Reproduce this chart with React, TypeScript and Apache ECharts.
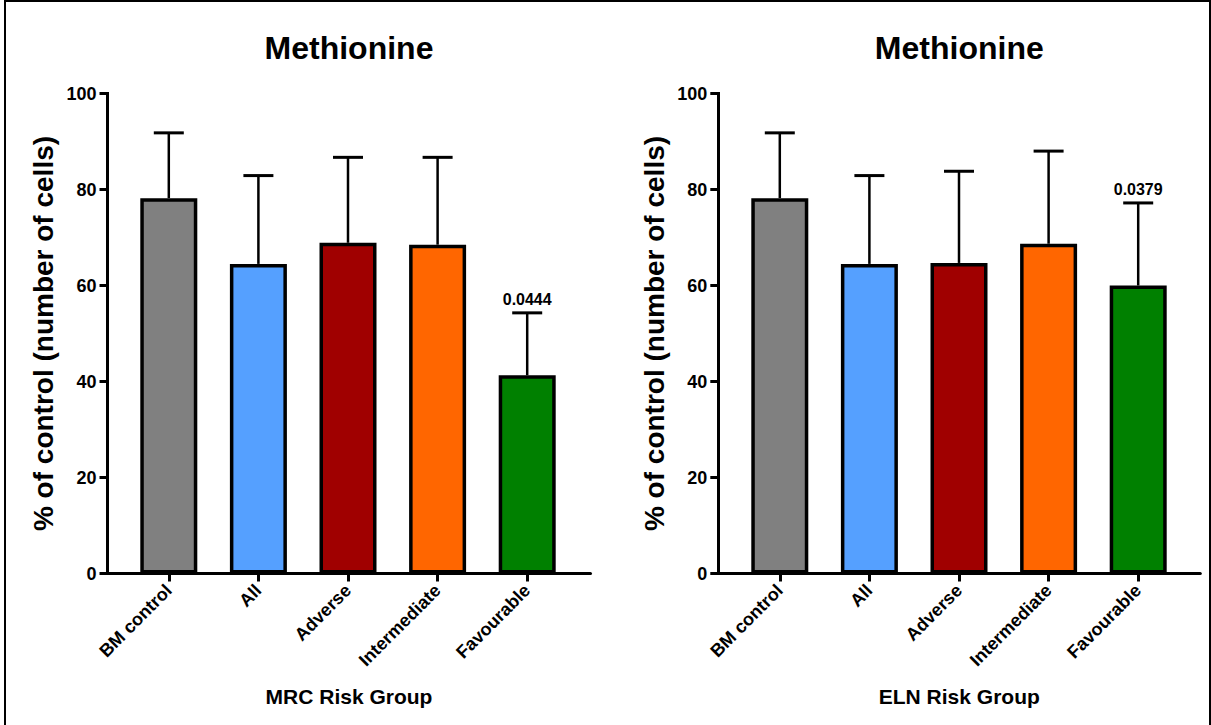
import React, { useEffect, useRef } from "react";
import * as echarts from "echarts";

const categories = ["BM control", "All", "Adverse", "Intermediate", "Favourable"];
const barColors = ["#808080", "#55A0FF", "#A00000", "#FF6600", "#008000"];

const mrcMeans = [78.2, 64.5, 68.9, 68.5, 41.3];
const mrcSD = [13.6, 18.4, 17.8, 18.2, 13.0];
const mrcP = ["", "", "", "", "0.0444"];

const elnMeans = [78.2, 64.5, 64.7, 68.7, 60.0];
const elnSD = [13.6, 18.4, 19.1, 19.3, 17.2];
const elnP = ["", "", "", "", "0.0379"];

const yTicks = [0, 20, 40, 60, 80, 100];

const titleText = "Methionine";
const yName = "% of control (number of cells)";
const xNames = ["MRC Risk Group", "ELN Risk Group"];

const FONT = "'Liberation Sans', Arial, Helvetica, sans-serif";

export default function App() {
  const ref = useRef<HTMLDivElement>(null);
  useEffect(() => {
    if (!ref.current) return;
    const chart = echarts.init(ref.current, undefined, { renderer: "svg" });

    const panels = [
      { means: mrcMeans, sd: mrcSD, p: mrcP, barLeft: 124, lineLeft: 107.5, lineWidth: 483, xName: xNames[0] },
      { means: elnMeans, sd: elnSD, p: elnP, barLeft: 735, lineLeft: 718.3, lineWidth: 482, xName: xNames[1] },
    ];
    const top = 93.5;
    const height = 480;
    const bandW = 448;

    const grid: any[] = [];
    const xAxis: any[] = [];
    const yAxis: any[] = [];
    const series: any[] = [];
    const graphic: any[] = [];

    panels.forEach((pn, k) => {
      const gBar = k * 2;
      const gLine = k * 2 + 1;
      grid.push({ left: pn.barLeft, top, width: bandW, height });
      grid.push({ left: pn.lineLeft, top, width: pn.lineWidth, height });

      xAxis.push({
        type: "category",
        gridIndex: gBar,
        data: categories,
        axisLine: { show: false },
        axisTick: { show: true, alignWithLabel: true, length: 8, lineStyle: { color: "#000", width: 3 } },
        axisLabel: {
          interval: 0,
          rotate: 45,
          margin: 14,
          color: "#000",
          fontWeight: "bold",
          fontSize: 18,
          fontFamily: FONT,
        },
        splitLine: { show: false },
      });
      yAxis.push({
        type: "value",
        gridIndex: gBar,
        min: yTicks[0],
        max: yTicks[yTicks.length - 1],
        interval: 20,
        show: false,
      });

      xAxis.push({
        type: "value",
        gridIndex: gLine,
        min: 0,
        max: 1,
        axisLine: { show: true, lineStyle: { color: "#000", width: 3 } },
        axisTick: { show: false },
        axisLabel: { show: false },
        splitLine: { show: false },
        name: pn.xName,
        nameLocation: "middle",
        nameGap: 112,
        nameTextStyle: { color: "#000", fontWeight: "bold", fontSize: 21, fontFamily: FONT },
      });
      yAxis.push({
        type: "value",
        gridIndex: gLine,
        min: yTicks[0],
        max: yTicks[yTicks.length - 1],
        interval: 20,
        axisLine: { show: true, lineStyle: { color: "#000", width: 3, cap: "square" } },
        axisTick: { show: true, length: 8, lineStyle: { color: "#000", width: 3 } },
        axisLabel: { color: "#000", fontWeight: "bold", fontSize: 18, fontFamily: FONT, margin: 11 },
        splitLine: { show: false },
        name: yName,
        nameLocation: "middle",
        nameRotate: 90,
        nameGap: 50,
        nameTextStyle: { color: "#000", fontWeight: "bold", fontSize: 28, fontFamily: FONT },
      });

      series.push({
        type: "bar",
        xAxisIndex: gBar,
        yAxisIndex: gBar,
        barWidth: 57,
        z: 3,
        itemStyle: { borderColor: "#000", borderWidth: 3.5 },
        data: pn.means.map((v, i) => ({ value: v, itemStyle: { color: barColors[i] } })),
      });

      const pv = pn.p;
      series.push({
        type: "custom",
        xAxisIndex: gBar,
        yAxisIndex: gBar,
        z: 1,
        data: pn.means.map((m, i) => [i, m, m + pn.sd[i]]),
        renderItem: (params: any, api: any) => {
          const x = api.value(0);
          const lo = api.coord([x, api.value(1)]);
          const hi = api.coord([x, api.value(2)]);
          const half = 15;
          const children: any[] = [
            { type: "line", shape: { x1: lo[0], y1: lo[1], x2: hi[0], y2: hi[1] }, style: { stroke: "#000", lineWidth: 2.5 } },
            { type: "line", shape: { x1: hi[0] - half, y1: hi[1], x2: hi[0] + half, y2: hi[1] }, style: { stroke: "#000", lineWidth: 3 } },
          ];
          const label = pv[params.dataIndex];
          if (label) {
            children.push({
              type: "text",
              x: hi[0],
              y: hi[1] - 5,
              style: {
                text: label,
                align: "center",
                verticalAlign: "bottom",
                fill: "#000",
                fontWeight: "bold",
                fontSize: 16,
                fontFamily: FONT,
              },
            });
          }
          return { type: "group", children };
        },
      });

      graphic.push({
        type: "text",
        x: pn.lineLeft + pn.lineWidth / 2,
        y: 48,
        style: {
          text: titleText,
          align: "center",
          verticalAlign: "middle",
          fill: "#000",
          fontWeight: "bold",
          fontSize: 32,
          fontFamily: FONT,
        },
      });
    });

    graphic.push({
      type: "rect",
      shape: { x: 5, y: 1, width: 1205, height: 740 },
      style: { fill: "none", stroke: "#000", lineWidth: 2 },
      silent: true,
    });

    chart.setOption({
      animation: false,
      backgroundColor: "#fff",
      grid,
      xAxis,
      yAxis,
      series,
      graphic,
    });
    return () => chart.dispose();
  }, []);

  return <div ref={ref} style={{ position: "absolute", left: 0, top: 0, width: 1211, height: 725 }} />;
}
